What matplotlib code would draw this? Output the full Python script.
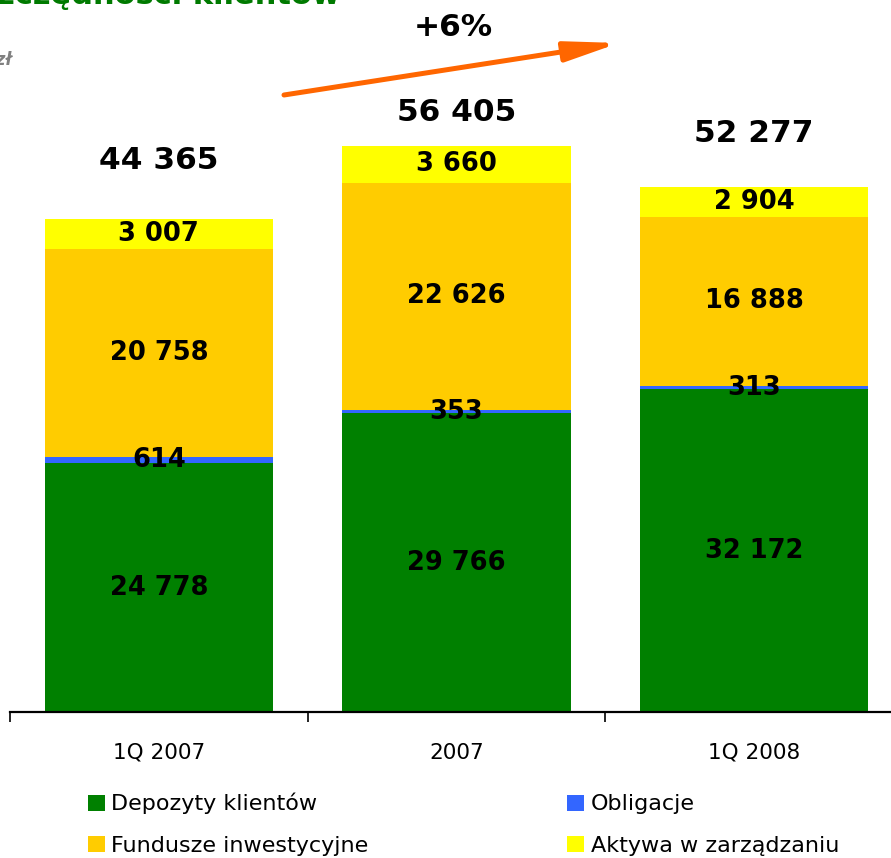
import numpy as np
import matplotlib
matplotlib.use('Agg')
from matplotlib import pyplot as plt
from matplotlib.patches import FancyArrowPatch

# data (mln zł)
categories = ['1Q 2007', '2007', '1Q 2008']
depozyty = [24778, 29766, 32172]
obligacje = [614, 353, 313]
fundusze = [20758, 22626, 16888]
aktywa = [3007, 3660, 2904]
totals_text = ['44 365', '56 405', '52 277']

series = [depozyty, obligacje, fundusze, aktywa]
names = ['Depozyty klientów', 'Obligacje', 'Fundusze inwestycyjne', 'Aktywa w zarządzaniu']
colors = ['#008000', '#3366FF', '#FFCC00', '#FFFF00']

W, H = 891, 858
fig = plt.figure(figsize=(W / 100, H / 100), dpi=100)
ax = fig.add_axes([10 / W, 146 / H, 893 / W, 602 / H])

x = np.arange(len(categories))
bottom = np.zeros(len(categories))
bars = []
for vals, col in zip(series, colors):
    b = ax.bar(x, vals, width=0.766, bottom=bottom, color=col, edgecolor='none')
    bars.append(b)
    for xi, bo, v in zip(x, bottom, vals):
        ax.text(xi, bo + v / 2, f'{v:,}'.replace(',', ' '), ha='center', va='center',
                fontsize=18.5, fontweight='bold', color='black')
    bottom = bottom + np.array(vals)

# totals above bars (offsets in points as in the original layout)
total_offsets = [42, 24, 39]
for xi, top, t, off in zip(x, bottom, totals_text, total_offsets):
    ax.annotate(t, (xi, top), xytext=(0, off), textcoords='offset points',
                ha='center', va='center', fontsize=22.5, fontweight='bold', annotation_clip=False)

ax.set_xlim(-0.5, 2.5)
ax.set_ylim(0, 60000)
for s in ['left', 'right', 'top']:
    ax.spines[s].set_visible(False)
ax.spines['bottom'].set_linewidth(1.6)
ax.set_yticks([])
ax.set_xticks([-0.5, 0.5, 1.5, 2.5])
ax.set_xticklabels([])
ax.set_xticks(x, minor=True)
ax.set_xticklabels(categories, minor=True, fontsize=15.5)
ax.tick_params(axis='x', which='major', length=7, width=1.2, direction='out')
ax.tick_params(axis='x', which='minor', length=0, pad=22)

# growth arrow
fig.patches.append(FancyArrowPatch(
    (284, H - 95), (619, H - 43), transform=None,
    arrowstyle='-|>,head_length=32,head_width=6',
    color='#FF6600', linewidth=3.6, mutation_scale=1, shrinkA=0, shrinkB=0))
fig.text(453 / W, 1 - 27 / H, '+6%', ha='center', va='center', fontsize=22.5, fontweight='bold')

# clipped title and unit
fig.text(340 / W, 1 - 4 / H, 'Oszczędności klientów', ha='right', va='baseline',
         fontsize=22, fontweight='bold', color='#007A00')
fig.text(12 / W, 1 - 60 / H, 'mln zł', ha='right', va='center', fontsize=12,
         fontweight='bold', style='italic', color='#808080')

# legend (row-wise order: Depozyty, Obligacje / Fundusze, Aktywa)
order = [0, 2, 1, 3]
fig.legend([bars[i][0] for i in order], [names[i] for i in order], loc='upper left',
           bbox_to_anchor=(68 / W, 1 - 773 / H), ncol=2, frameon=False, fontsize=16,
           handlelength=0.75, handleheight=0.75, handletextpad=0.3,
           columnspacing=8.95, labelspacing=0.95)

fig.savefig('out.png', dpi=100)
